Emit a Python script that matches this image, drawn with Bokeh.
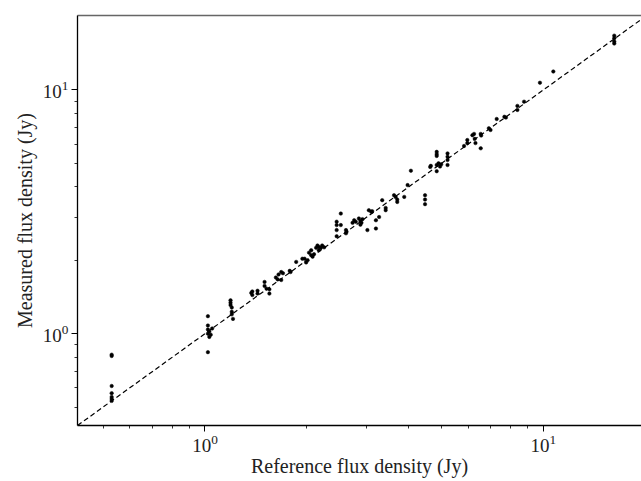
from bokeh.plotting import figure
from bokeh.models import LogAxis, FixedTicker
from bokeh.embed import file_html
from bokeh.resources import INLINE

# Axis limits (Jy)
X_MIN, X_MAX = 0.42, 19.5
Y_MIN, Y_MAX = 0.42, 20.2

MAJOR_TICKS = [1, 10]
MINOR_TICKS = [0.5, 0.6, 0.7, 0.8, 0.9, 2, 3, 4, 5, 6, 7, 8, 9]

X_LABEL = "Reference flux density (Jy)"
Y_LABEL = "Measured flux density (Jy)"

reference_flux = [
    0.53, 0.53, 0.53, 0.53, 0.53, 0.53, 0.53,
    1.02, 1.02, 1.02, 1.03, 1.02, 1.04, 1.05, 1.03, 1.02,
    1.19, 1.19, 1.19, 1.20, 1.20, 1.20, 1.21,
    1.37, 1.38, 1.38, 1.43, 1.43, 1.50, 1.50, 1.52, 1.55, 1.55,
    1.62, 1.65, 1.68, 1.70, 1.68, 1.64, 1.79, 1.78,
    1.86, 1.94, 1.97, 1.99, 2.01, 2.03, 2.06, 2.06, 2.08, 2.10, 2.13, 2.15, 2.17, 2.17, 2.20, 2.22, 2.25,
    2.45, 2.45, 2.45, 2.45, 2.52, 2.52, 2.61, 2.61, 2.62,
    2.73, 2.76, 2.79, 2.85, 2.88, 2.90, 2.92, 2.88,
    3.02, 3.05, 3.10, 3.12, 3.20, 3.20, 3.27, 3.34, 3.42, 3.42,
    3.62, 3.66, 3.70, 3.70, 3.88, 3.97, 4.06,
    4.47, 4.47, 4.47,
    4.63, 4.65, 4.84, 4.84, 4.84, 4.84, 4.84, 4.90, 4.95, 4.99, 5.21, 5.21, 5.21, 5.21,
    5.83, 5.96, 5.96, 6.17, 6.24, 6.27, 6.30, 6.53, 6.53, 6.55, 6.90, 6.98, 7.28, 7.67, 7.75,
    8.38, 8.38, 8.77, 9.77, 10.7, 16.2, 16.2, 16.2, 16.2,
]
measured_flux = [
    0.82, 0.81, 0.61, 0.57, 0.55, 0.54, 0.53,
    1.18, 1.08, 1.04, 1.02, 1.00, 0.99, 1.05, 0.97, 0.84,
    1.37, 1.34, 1.31, 1.28, 1.23, 1.20, 1.15,
    1.47, 1.44, 1.49, 1.50, 1.46, 1.63, 1.57, 1.53, 1.52, 1.46,
    1.70, 1.75, 1.79, 1.77, 1.66, 1.67, 1.79, 1.81,
    1.97, 2.03, 2.03, 1.96, 2.00, 2.15, 2.20, 2.10, 2.07, 2.12, 2.25, 2.30, 2.27, 2.20, 2.25, 2.30, 2.26,
    2.88, 2.79, 2.66, 2.51, 3.11, 2.79, 2.66, 2.58, 2.62,
    2.85, 2.92, 2.88, 2.97, 2.90, 2.85, 2.95, 2.80,
    2.66, 3.21, 3.16, 3.18, 2.92, 2.70, 3.01, 3.53, 3.21, 3.28,
    3.70, 3.64, 3.55, 3.47, 3.64, 4.07, 4.66,
    3.70, 3.55, 3.40,
    4.83, 4.88, 5.57, 5.45, 5.36, 4.92, 4.64, 5.00, 4.85, 4.95, 5.49, 5.32, 5.16, 4.92,
    5.89, 6.23, 6.05, 6.52, 6.60, 6.30, 6.05, 5.76, 6.60, 6.50, 6.96, 6.85, 7.60, 7.76, 7.70,
    8.60, 8.28, 8.95, 10.7, 11.9, 16.7, 16.3, 15.8, 15.5,
]

FONT = "Liberation Serif"

p = figure(
    width=641, height=481,
    x_axis_type="log", y_axis_type="log",
    x_range=(X_MIN, X_MAX), y_range=(Y_MIN, Y_MAX),
    output_backend="svg", toolbar_location=None,
    min_border_left=77, min_border_right=0,
    min_border_top=15, min_border_bottom=56,
)
p.outline_line_color = None
p.xgrid.visible = False
p.ygrid.visible = False
p.background_fill_color = "white"
p.border_fill_color = "white"

for ax, label in ((p.xaxis[0], X_LABEL), (p.yaxis[0], Y_LABEL)):
    ax.ticker = FixedTicker(ticks=MAJOR_TICKS, minor_ticks=MINOR_TICKS)
    ax.axis_label = label
    ax.axis_label_text_font = FONT
    ax.axis_label_text_font_style = "normal"
    ax.axis_label_text_font_size = "20px"
    ax.axis_label_text_color = "#222222"
    ax.major_label_text_font = FONT
    ax.major_label_text_font_size = "19px"
    ax.major_label_text_color = "#222222"
    ax.axis_line_color = "black"
    ax.axis_line_width = 1.3
    ax.major_tick_line_color = "black"
    ax.minor_tick_line_color = "black"
    ax.major_tick_in = 0
    ax.major_tick_out = 6
    ax.minor_tick_in = 0
    ax.minor_tick_out = 3
    ax.major_tick_line_width = 1
    ax.minor_tick_line_width = 0.8

p.xaxis[0].major_label_standoff = 3
p.xaxis[0].axis_label_standoff = 0
p.yaxis[0].major_label_standoff = 3
p.yaxis[0].axis_label_standoff = 4

top = LogAxis(ticker=FixedTicker(ticks=[]), major_label_text_font_size="0px",
              major_tick_line_color=None, minor_tick_line_color=None,
              axis_line_color="#666666", axis_line_width=1.5)
p.add_layout(top, "above")

# y = x reference line
p.line([X_MIN, 25], [X_MIN, 25], line_color="black", line_width=1.2, line_dash="5 3")

p.scatter(reference_flux, measured_flux, marker="circle", size=3.5,
          fill_color="black", line_color="black", line_width=0.5)

open("out.html", "w").write(file_html(p, INLINE))
